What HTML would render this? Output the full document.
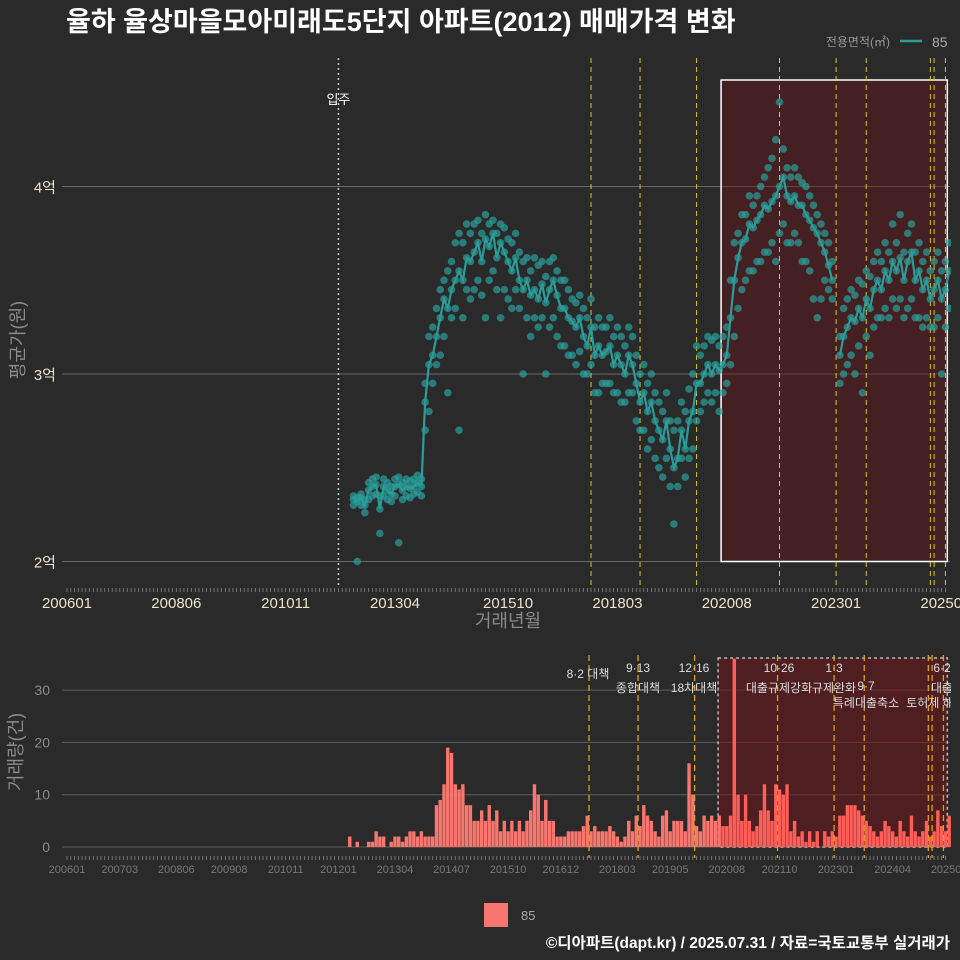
<!DOCTYPE html>
<html><head><meta charset="utf-8">
<style>
html,body{margin:0;padding:0;background:#2a2a2b;}
svg{display:block;font-family:"Liberation Sans","Noto Sans CJK KR",sans-serif;}
</style></head>
<body>
<svg id="chart" width="960" height="960" viewBox="0 0 960 960" xmlns="http://www.w3.org/2000/svg">
<rect x="0" y="0" width="960" height="960" fill="#2a2a2b"/>
<text x="66" y="31" fill="#ffffff" font-size="27" font-weight="bold">율하 율상마을모아미래도5단지 아파트(2012) 매매가격 변화</text>
<g>
<text x="890" y="46" fill="#999" font-size="12" text-anchor="end">전용면적(㎡)</text>
<line x1="900" y1="41" x2="922" y2="41" stroke="#2a9d9a" stroke-width="2.5"/>
<text x="932" y="47" fill="#aaa" font-size="14">85</text>
</g>
<g id="topG"></g>
<g id="botG"></g>
<g>
<rect x="484" y="903" width="24" height="24" fill="#f8766d"/>
<text x="521" y="920" fill="#aaa" font-size="13">85</text>
</g>
<text x="950" y="948" fill="#ffffff" font-size="15.5" font-weight="bold" text-anchor="end">©디아파트(dapt.kr) / 2025.07.31 / 자료=국토교통부 실거래가</text>
</svg>
<script>
// price data: monthly, starting 2012-05 (month index 76 from 2006-01)
const startMonth = 76;
const avgPrice = [
2.33,2.32,2.34,2.30,2.38,2.40,2.41,2.28,
2.40,2.38,2.36,2.40,2.41,2.38,2.40,2.39,2.40,2.42,2.40,2.85,
3.05,3.1,3.2,3.3,3.4,3.35,3.45,3.5,3.55,3.5,3.62,3.6,
3.65,3.7,3.6,3.72,3.68,3.75,3.62,3.7,3.65,3.6,3.55,3.62,
3.5,3.45,3.5,3.42,3.45,3.4,3.48,3.38,3.45,3.5,3.42,3.35,
3.35,3.3,3.28,3.25,3.3,3.2,3.15,3.25,3.1,3.15,3.1,3.12,
3.15,3.05,3.1,3.05,3.0,3.1,3.05,2.95,2.85,2.9,2.8,2.85,
2.75,2.7,2.65,2.75,2.6,2.5,2.55,2.7,2.6,2.75,2.8,2.95,
2.95,3.0,3.05,3.0,3.05,3.02,3.05,3.1,3.3,3.5,3.62,3.7,
3.72,3.8,3.78,3.82,3.85,3.9,3.88,3.92,3.95,4.0,4.05,3.95,
3.92,3.95,3.9,3.9,3.85,3.82,3.78,3.75,3.7,3.65,3.58,3.5,
null,3.1,3.2,3.25,3.3,3.28,3.35,3.3,3.4,3.35,3.45,3.5,
3.45,3.55,3.5,3.6,3.55,3.62,3.5,3.6,3.65,3.5,3.55,3.45,
3.5,3.4,3.45,3.5,3.4,3.45,3.55];
const hiPrice = [
2.35,2.34,2.36,2.33,2.42,2.44,2.45,2.35,
2.44,2.42,2.4,2.44,2.45,2.42,2.44,2.43,2.44,2.46,2.44,2.95,
3.2,3.25,3.35,3.45,3.5,3.55,3.6,3.7,3.75,3.7,3.8,3.75,
3.8,3.82,3.75,3.85,3.8,3.82,3.75,3.8,3.78,3.72,3.7,3.75,
3.65,3.6,3.62,3.55,3.62,3.58,3.6,3.52,3.6,3.62,3.55,3.5,
3.5,3.45,3.4,3.38,3.42,3.35,3.3,3.4,3.25,3.3,3.25,3.25,
3.3,3.2,3.25,3.2,3.15,3.25,3.2,3.1,3.0,3.05,2.95,3.0,
2.9,2.85,2.8,2.9,2.75,2.7,2.75,2.85,2.8,2.92,3.0,3.15,
3.1,3.15,3.2,3.18,3.2,3.15,3.2,3.25,3.5,3.7,3.75,3.85,
3.85,3.95,3.9,3.95,4.0,4.05,4.1,4.15,4.25,4.45,4.2,4.1,
4.05,4.1,4.05,4.02,4.0,3.95,3.9,3.85,3.8,3.75,3.7,3.6,
null,3.2,3.35,3.4,3.45,3.42,3.5,3.48,3.55,3.52,3.6,3.65,
3.6,3.7,3.65,3.8,3.7,3.85,3.65,3.75,3.8,3.65,3.7,3.6,
3.65,3.55,3.6,3.65,3.55,3.6,3.7];
const loPrice = [
2.3,2.0,2.3,2.26,2.33,2.35,2.36,2.15,
2.35,2.33,2.32,2.35,2.1,2.33,2.35,2.34,2.36,2.37,2.35,2.7,
2.8,2.95,3.05,3.1,3.2,2.9,3.3,3.35,2.7,3.3,3.45,3.4,
3.45,3.5,3.42,3.3,3.5,3.55,3.45,3.3,3.45,3.4,3.35,3.45,
3.35,3.0,3.3,3.2,3.3,3.25,3.3,3.0,3.25,3.3,3.2,3.15,
3.15,3.1,3.1,3.05,3.12,3.0,3.0,3.05,2.9,2.9,2.95,2.95,
2.95,2.9,2.9,2.85,2.85,2.9,2.9,2.75,2.7,2.7,2.6,2.65,
2.55,2.5,2.45,2.55,2.4,2.2,2.4,2.55,2.45,2.55,2.6,2.75,
2.8,2.85,2.9,2.85,2.9,2.8,2.9,2.95,3.05,3.2,3.35,3.45,
3.5,3.55,3.55,3.6,3.6,3.65,3.65,3.7,3.6,3.75,3.8,3.7,
3.7,3.75,3.7,3.6,3.6,3.55,3.4,3.3,3.4,3.5,3.45,3.4,
null,2.95,3.0,3.05,3.1,3.0,3.15,2.9,3.2,3.1,3.25,3.3,
3.3,3.35,3.3,3.4,3.35,3.4,3.3,3.35,3.4,3.3,3.3,3.25,
3.3,3.25,3.25,3.3,3.0,3.25,3.35];
// volume data: monthly from 2012-01 (month index 72)
const volStart = 72;
const volume = [
0,0,0,2,0,1,0,0,1,1,3,2,
2,0,1,2,2,1,2,3,3,2,3,2,
2,2,8,9,12,19,18,12,11,12,8,8,
5,5,7,5,8,5,7,3,5,3,5,3,
5,3,5,7,12,10,5,9,5,5,2,2,
2,3,3,3,3,4,6,3,4,3,3,3,
4,3,2,1,2,5,3,6,4,8,6,5,
3,2,6,7,3,5,5,5,3,16,10,4,
3,6,5,6,5,6,4,4,6,36,10,5,
10,5,3,4,7,12,7,5,12,11,10,12,
3,5,2,3,1,3,1,3,0,3,2,3,
2,6,6,8,8,8,7,6,5,4,3,2,
3,5,4,3,2,5,3,2,6,3,2,3,
5,2,3,7,4,3,6];
const priceTicks = [2,3,4];
const priceTickLabels = ["2억","3억","4억"];
const volTicks = [0,10,20,30];
const topXLabels = ["200601","200806","201011","201304","201510","201803","202008","202301","202506"];
const botXLabels = ["200601","200703","200806","200908","201011","201201","201304","201407","201510","201612","201803","201905","202008","202110","202301","202404","202507"];
const eventMonths = [139,152,167,189,204,212,229,230,233];
const moveInMonth = 72;
const regionStart = 173.5, regionEnd = 233.5;

const NS="http://www.w3.org/2000/svg";
const topG=document.getElementById('topG'), botG=document.getElementById('botG');
function mk(parent,tag,attrs,text){const e=document.createElementNS(NS,tag);for(const k in attrs)e.setAttribute(k,attrs[k]);if(text!==undefined)e.textContent=text;parent.appendChild(e);return e;}
const xM = m => 67 + 3.77*m;
const yP = p => 374 - (p-3)*187.5;
const yV = v => 847 - v*5.23;
const monthIdx = s => (parseInt(s.slice(0,4))-2006)*12 + parseInt(s.slice(4,6))-1;
const PL=62, PR=950;

// ---------- top panel ----------
priceTicks.forEach((t,i)=>{
  let g=mk(topG,'line',{x1:PL,x2:PR,y1:yP(t),y2:yP(t),stroke:'#6a6a6a','stroke-width':1});
  
  
  let l=mk(topG,'text',{x:56,y:yP(t)+6,fill:'#e8e6c8','font-size':15,'text-anchor':'end'},priceTickLabels[i]);
  
  
});
let reg=mk(topG,'rect',{x:xM(regionStart),y:80,width:xM(regionEnd)-xM(regionStart),height:yP(2)-80,fill:'rgba(100,20,25,0.45)',stroke:'#ffffff','stroke-width':1.5});


let mv=mk(topG,'line',{x1:xM(moveInMonth),x2:xM(moveInMonth),y1:58,y2:588,stroke:'#cccccc','stroke-width':1.5,'stroke-dasharray':'2,3'});


let mvt=mk(topG,'text',{x:xM(moveInMonth),y:104,fill:'#ffffff','font-size':13,'text-anchor':'middle'},'입주');


eventMonths.forEach(m=>{
  let e=mk(topG,'line',{x1:xM(m),x2:xM(m),y1:58,y2:588,stroke:'#d8c820','stroke-width':1,'stroke-dasharray':'5,4'});
  
  
});
[hiPrice,loPrice,avgPrice].forEach(arr=>{
  arr.forEach((v,i)=>{
    if(v===null) return;
    let c=mk(topG,'circle',{cx:xM(startMonth+i),cy:yP(v),r:3.8,fill:'rgba(42,160,155,0.7)'});
    
    
  });
});
let d='', pen=false;
avgPrice.forEach((v,i)=>{ if(v===null){pen=false;return;} d+=(pen?'L':'M')+xM(startMonth+i).toFixed(1)+','+yP(v).toFixed(1); pen=true; });
let pl=mk(topG,'path',{d:d,fill:'none',stroke:'#2a9d9a','stroke-width':2.2});


let tk='';
for(let m=0;m<=233;m++){tk+='M'+xM(m).toFixed(1)+',588v4';}
let tkp=mk(topG,'path',{d:tk,stroke:'#888','stroke-width':0.8});


topXLabels.forEach(s=>{
  let t=mk(topG,'text',{x:xM(monthIdx(s)),y:608,fill:'#e8e6c8','font-size':15,'text-anchor':'middle'},s);
  
  
});
let xt=mk(topG,'text',{x:508,y:627,fill:'#8a8a8a','font-size':18,'text-anchor':'middle'},'거래년월');


let yt=mk(topG,'text',{x:0,y:0,fill:'#8a8a8a','font-size':18,'text-anchor':'middle',transform:'translate(24,340) rotate(-90)'},'평균가(원)');


let cov=mk(topG,'rect',{x:951,y:55,width:9,height:535,fill:'#2a2a2b'});



// ---------- bottom panel ----------
volTicks.forEach(t=>{
  let g=mk(botG,'line',{x1:PL,x2:PR,y1:yV(t),y2:yV(t),stroke:'#5e5e5e','stroke-width':1});
  
  
  let l=mk(botG,'text',{x:50,y:yV(t)+5,fill:'#8a8a8a','font-size':14,'text-anchor':'end'},String(t));
  
  
});
let breg=mk(botG,'rect',{x:xM(regionStart)-3,y:658,width:xM(regionEnd)-xM(regionStart)+3,height:847-658,fill:'rgba(110,20,25,0.55)',stroke:'#bbbbbb','stroke-width':1.5,'stroke-dasharray':'3,3'});


volume.forEach((v,i)=>{
  const m=volStart+i;
  if(v<=0) return;
  const inR = m>=regionStart;
  let b=mk(botG,'rect',{x:xM(m)-1.7,y:yV(v),width:3.4,height:847-yV(v),fill:inR?'#ff5e58':'#f8766d'});
  
  
});
eventMonths.forEach(m=>{
  let e=mk(botG,'line',{x1:xM(m)-2,x2:xM(m)-2,y1:655,y2:858,stroke:'#e0a010','stroke-width':1.3,'stroke-dasharray':'6,4'});
  
  
});
const ann=[[588,678,'8·2 대책'],[638,672,'9·13'],[638,692,'종합대책'],[694,672,'12·16'],[694,692,'18차대책'],[779,672,'10·26'],[779,692,'대출규제강화'],[834,672,'1·3'],[834,692,'규제완화'],[866,690,'9·7'],[866,707,'특례대출축소'],[930,707,'토허제 해'],[942,672,'6·2'],[942,692,'대출']];
ann.forEach(a=>{
  let t=mk(botG,'text',{x:a[0],y:a[1],fill:'#dddddd','font-size':12,'text-anchor':'middle'},a[2]);
  
  
});
let bcov=mk(botG,'rect',{x:951,y:650,width:9,height:200,fill:'#2a2a2b'});


let btk='';
for(let m=0;m<=233;m++){btk+='M'+xM(m).toFixed(1)+',856v4';}
let btkp=mk(botG,'path',{d:btk,stroke:'#888','stroke-width':0.8});


botXLabels.forEach(s=>{
  let t=mk(botG,'text',{x:xM(monthIdx(s)),y:873,fill:'#777','font-size':11,'text-anchor':'middle'},s);
  
  
});
let byt=mk(botG,'text',{x:0,y:0,fill:'#8a8a8a','font-size':18,'text-anchor':'middle',transform:'translate(22,752) rotate(-90)'},'거래량(건)');


</script>
</body></html>
